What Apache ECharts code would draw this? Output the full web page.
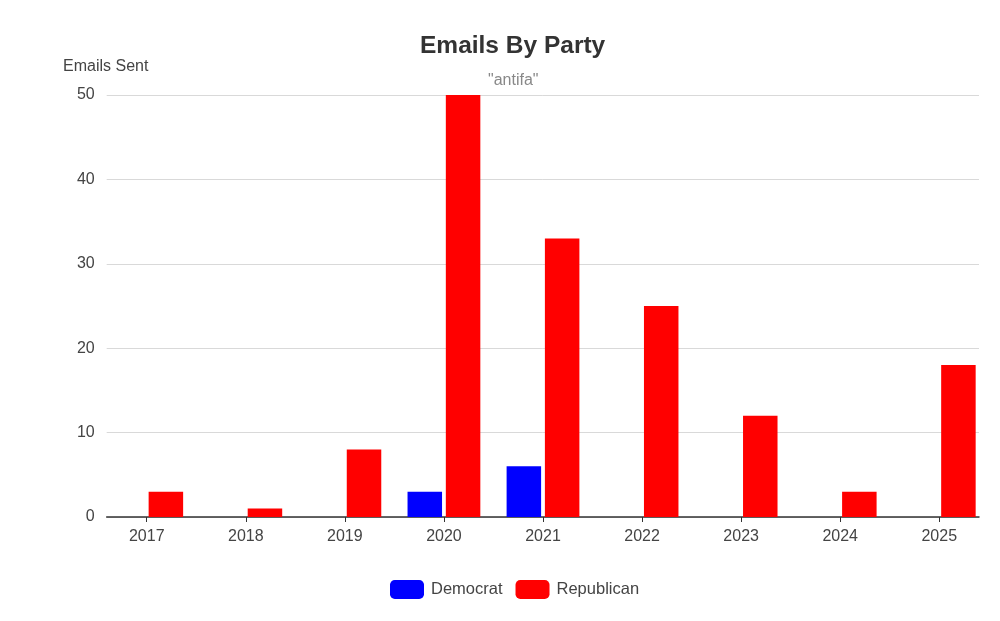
<!DOCTYPE html>
<html>
<head>
<meta charset="utf-8">
<style>html,body{margin:0;padding:0;background:#fff}#c{width:1000px;height:621px}</style>
<script src="https://cdn.jsdelivr.net/npm/echarts@6/dist/echarts.min.js"></script>
</head>
<body>
<div id="c"></div>
<script>
const categories = ['2017','2018','2019','2020','2021','2022','2023','2024','2025'];
const democrat = [0, 0, 0, 3, 6, 0, 0, 0, 0];
const republican = [3, 1, 8, 50, 33, 25, 12, 3, 18];
const yMin = 0, yMax = 50, yStep = 10;

const FONT = '"Liberation Sans", Arial, Helvetica, sans-serif';
const chart = echarts.init(document.getElementById('c'));
const gridTop = 95, gridBottom = 104;
chart.setOption({
  backgroundColor: '#fff',
  textStyle: { fontFamily: FONT },
  title: [
    { text: 'Emails By Party', left: 420, top: 34, padding: 0,
      textStyle: { fontFamily: FONT, fontSize: 24.5, fontWeight: 'bold', color: '#333' } },
    { text: '"antifa"', left: 488, top: 73, padding: 0,
      textStyle: { fontFamily: FONT, fontSize: 16, fontWeight: 'normal', color: '#888' } },
    { text: 'Emails Sent', left: 63, top: 59, padding: 0,
      textStyle: { fontFamily: FONT, fontSize: 16, fontWeight: 'normal', color: '#444' } }
  ],
  legend: {
    left: 390, top: 580, padding: 0,
    itemWidth: 34, itemHeight: 19, itemGap: 13,
    icon: 'roundRect',
    textStyle: { fontFamily: FONT, fontSize: 16.5, color: '#444', padding: [0, 0, 0, 2] },
    data: ['Democrat', 'Republican']
  },
  grid: [
    { left: 97.2, right: 11.2, top: gridTop, bottom: gridBottom },
    { left: 106.7, right: 21, top: gridTop, bottom: gridBottom }
  ],
  xAxis: [
    { type: 'category', gridIndex: 0, data: categories,
      axisLine: { show: false },
      axisTick: { show: true, alignWithLabel: true, length: 5, lineStyle: { color: '#333' } },
      axisLabel: { fontFamily: FONT, fontSize: 16, color: '#444', margin: 12 } },
    { type: 'category', gridIndex: 1, data: categories,
      axisLine: { show: true, lineStyle: { color: '#333', width: 1.5 } },
      axisTick: { show: false }, axisLabel: { show: false } }
  ],
  yAxis: [
    { type: 'value', gridIndex: 0, min: yMin, max: yMax, interval: yStep, show: false },
    { type: 'value', gridIndex: 1, min: yMin, max: yMax, interval: yStep,
      axisLine: { show: false }, axisTick: { show: false },
      axisLabel: { fontFamily: FONT, fontSize: 16, color: '#444', margin: 12 },
      splitLine: { show: true, lineStyle: { color: '#d9d9d9', width: 1 } } }
  ],
  series: [
    { name: 'Democrat', type: 'bar', xAxisIndex: 0, yAxisIndex: 0, data: democrat,
      barWidth: 34.5, barGap: '11%', itemStyle: { color: '#0000ff' } },
    { name: 'Republican', type: 'bar', xAxisIndex: 0, yAxisIndex: 0, data: republican,
      barWidth: 34.5, barGap: '11%', itemStyle: { color: '#ff0000' } }
  ]
});
</script>
</body>
</html>
